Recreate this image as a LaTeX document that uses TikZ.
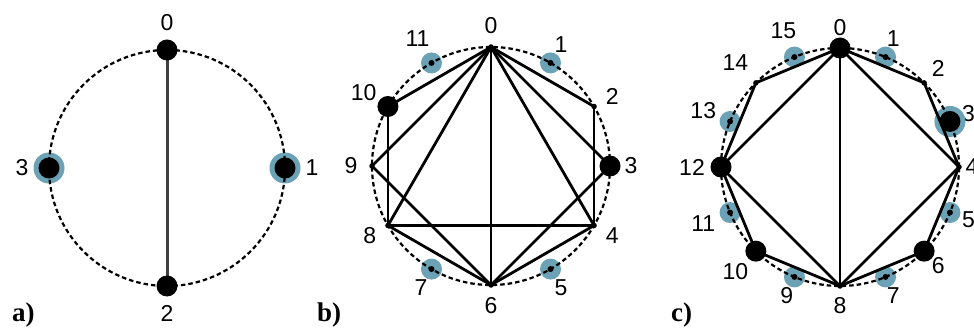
\documentclass[tikz,border=0pt]{standalone}
\usepackage{fontspec}
\setmainfont{Liberation Sans}
\newfontfamily\panelfont{Liberation Serif}
\usetikzlibrary{calc}
\definecolor{ringblue}{HTML}{6CA2B6}
\definecolor{edgegray}{HTML}{404040}
\begin{document}
\begin{tikzpicture}[x=1pt,y=1pt,
  bigdot/.style={circle,fill=black,inner sep=0pt,minimum size=21pt},
  smalldot/.style={circle,fill=black,inner sep=0pt,minimum size=5.5pt},
  tinydot/.style={circle,fill=black,inner sep=0pt,minimum size=6pt},
  bluedisc/.style={circle,fill=ringblue,inner sep=0pt,minimum size=21pt},
  bluering/.style={circle,fill=ringblue,inner sep=0pt,minimum size=31pt},
  ringline/.style={line width=2.2pt,dash pattern=on 4.5pt off 3pt},
  edge/.style={line width=2.8pt,line join=round},
  grayedge/.style={line width=3pt,draw=edgegray},
  num/.style={font=\fontsize{23}{25}\selectfont,inner sep=0pt},
  panellabel/.style={font=\fontsize{27}{29}\selectfont\panelfont\bfseries,inner sep=0pt,anchor=base west}]
\useasboundingbox (0,0) rectangle (974,332);

% ---------------- panel a ----------------
\coordinate (ac) at (167,164);
\foreach \i in {0,...,3} {
  \coordinate (a\i) at ($(ac)+({90-90*\i}:118)$);
  \node[num] (al\i) at ($(ac)+({90-90*\i}:145)$) {\i};
}
\node[bluering] (ar1) at (a1) {};
\node[bluering] (ar3) at (a3) {};
\draw[ringline] (ac) circle[radius=118];
\draw[grayedge] (a0) -- (a2);
\foreach \i in {0,...,3} \node[bigdot] (ad\i) at (a\i) {};
\node[panellabel] (pa) at (12,11) {a)};

% ---------------- panel b ----------------
\coordinate (bc) at (491,166);
\foreach \i in {0,...,11} {
  \coordinate (b\i) at ($(bc)+({90-30*\i}:119)$);
  \pgfmathsetmacro\R{ifthenelse(\i<10,140,147)}
  \node[num] (bl\i) at ($(bc)+({90-30*\i}:\R)$) {\i};
}
\foreach \i in {1,5,7,11} \node[bluedisc] (bb\i) at (b\i) {};
\draw[ringline] (bc) circle[radius=119];
\foreach \u/\v in {0/10,0/9,0/8,0/6,0/4,0/3,0/2,10/8,9/6,8/4,8/6,6/4,6/3,2/4}
  \draw[edge] (b\u) -- (b\v);
\foreach \i in {3,10} \node[bigdot] (bd\i) at (b\i) {};
\foreach \i in {0,2,4,6,8,9} \node[smalldot] (bd\i) at (b\i) {};
\foreach \i in {1,5,7,11} \node[tinydot] (bd\i) at (b\i) {};
\node[panellabel] (pb) at (317,11) {b)};

% ---------------- panel c ----------------
\coordinate (cc) at (840,165);
\foreach \i in {0,...,15} {
  \coordinate (c\i) at ($(cc)+({90-22.5*\i}:119)$);
  \pgfmathsetmacro\R{ifthenelse(\i==4,132,ifthenelse(\i<10,139,148))}
  \node[num] (cl\i) at ($(cc)+({90-22.5*\i}:\R)$) {\i};
}
\foreach \i in {1,5,7,9,11,13,15} \node[bluedisc] (cb\i) at (c\i) {};
\node[bluering] (cr3) at (c3) {};
\draw[ringline] (cc) circle[radius=119];
\foreach \u/\v in {0/14,14/12,0/12,12/10,12/8,10/8,0/8,0/2,2/4,0/4,4/6,4/8,6/8}
  \draw[edge] (c\u) -- (c\v);
\foreach \i in {0,3,6,10,12} \node[bigdot] (cd\i) at (c\i) {};
\foreach \i in {2,4,8,14} \node[smalldot] (cd\i) at (c\i) {};
\foreach \i in {1,5,7,9,11,13,15} \node[tinydot] (cd\i) at (c\i) {};
\node[panellabel] (pc) at (671,11) {c)};
\end{tikzpicture}
\end{document}
